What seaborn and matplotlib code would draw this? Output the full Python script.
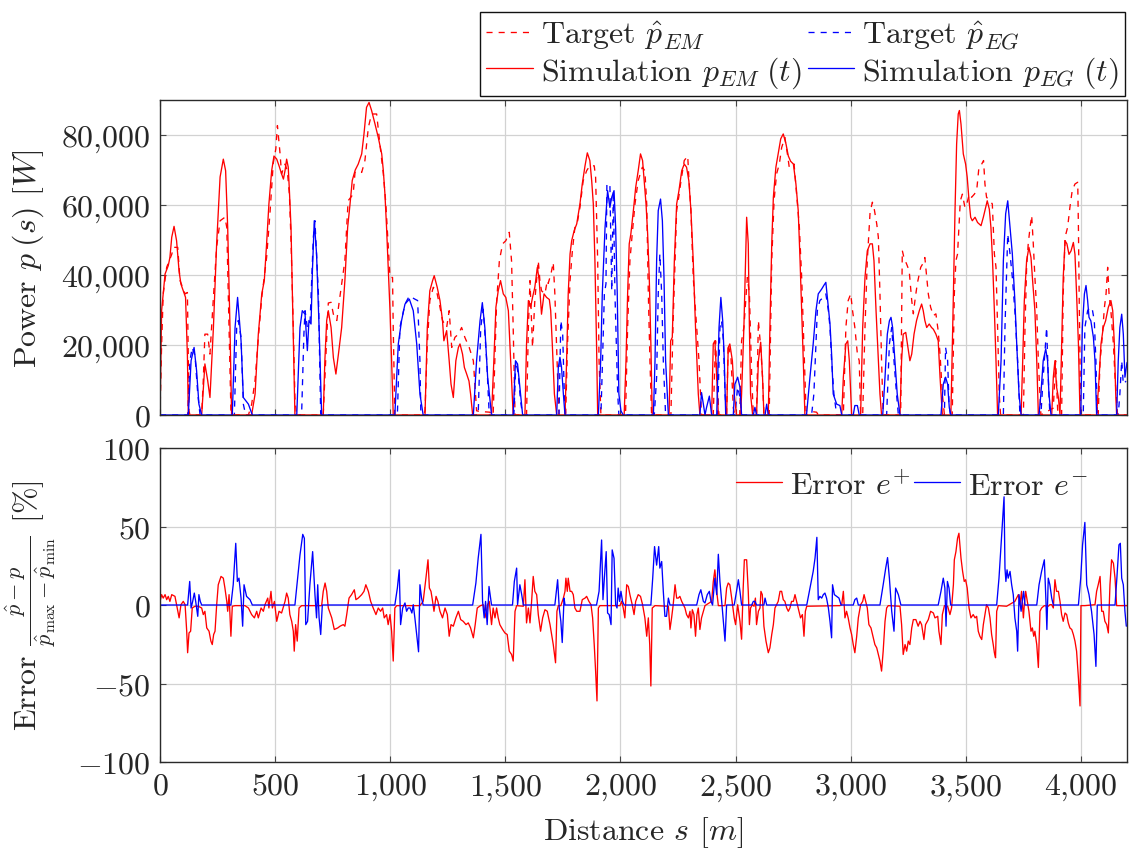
import matplotlib
matplotlib.use("Agg")
import matplotlib.pyplot as plt
from matplotlib.lines import Line2D
import pandas as pd
import seaborn as sns

# ---------------------------------------------------------------------------
# Power profiles along the track: (distance s [m], power [kW])
# ---------------------------------------------------------------------------
em_sim = [
    (0, 0), (7, 29.8), (22, 40.3), (36, 42.7), (43, 45.0), (51, 50.8), (61, 53.9), (72, 49.8),
    (83, 41.0), (91, 37.4), (101, 35.5), (111, 33.6), (119, 17.0), (123, 0), (181, 0),
    (195, 14.6), (207, 9.9), (217, 5.0), (232, 25.0), (246, 48.9), (261, 68.0), (275, 73.1),
    (285, 69.8), (294, 53.6), (304, 25.0), (311, 0), (398, 0), (413, 6.0), (427, 23.1),
    (442, 34.6), (453, 38.4), (463, 48.9), (473, 60.3), (485, 69.8), (495, 74.0), (507, 73.1),
    (517, 71.2), (528, 68.9), (536, 67.4), (543, 69.8), (550, 73.1), (557, 70.8), (562, 64.1),
    (569, 53.6), (575, 34.6), (581, 15.5), (586, 0), (709, 0), (716, 15.5), (724, 27.0),
    (731, 29.8), (743, 25.0), (753, 16.4), (764, 11.7), (775, 17.4), (789, 25.0), (803, 38.4),
    (815, 53.6), (825, 60.0), (835, 67.0), (848, 70.0), (861, 71.7), (876, 74.6), (886, 80.3),
    (897, 87.9), (908, 89.3), (919, 87.0), (934, 83.1), (948, 79.3), (963, 74.6), (970, 69.8),
    (977, 63.1), (984, 53.6), (991, 42.2), (999, 29.8), (1006, 15.5), (1013, 0), (1151, 0),
    (1161, 25.0), (1172, 35.5), (1184, 38.4), (1191, 39.8), (1204, 36.5), (1216, 32.7),
    (1227, 27.0), (1233, 21.2), (1245, 24.1), (1256, 15.5), (1264, 8.8), (1274, 5.0),
    (1285, 15.5), (1296, 19.3), (1303, 20.3), (1314, 17.4), (1322, 13.6), (1332, 11.7),
    (1342, 9.7), (1349, 6.0), (1358, 0), (1440, 0), (1450, 15.5), (1459, 30.8), (1469, 35.5),
    (1479, 38.4), (1491, 34.6), (1502, 33.6), (1513, 29.8), (1523, 15.5), (1534, 0), (1585, 0),
    (1592, 20.3), (1600, 32.7), (1610, 30.8), (1618, 33.6), (1628, 36.5), (1639, 42.2),
    (1647, 38.4), (1657, 28.8), (1668, 34.6), (1679, 33.6), (1691, 33.0), (1697, 29.8),
    (1704, 20.0), (1713, 6.0), (1723, 0), (1759, 0), (1766, 15.5), (1773, 34.6), (1781, 46.0),
    (1788, 49.8), (1799, 52.7), (1810, 54.6), (1824, 60.3), (1834, 66.0), (1846, 71.2),
    (1856, 74.9), (1867, 72.7), (1875, 66.9), (1882, 60.3), (1889, 44.1), (1896, 20.3),
    (1901, 0), (2016, 0), (2024, 15.5), (2031, 34.6), (2038, 48.9), (2045, 51.7), (2056, 58.4),
    (2066, 65.0), (2077, 69.8), (2087, 74.6), (2096, 72.7), (2103, 66.9), (2111, 60.3),
    (2118, 51.7), (2125, 39.3), (2132, 20.3), (2138, 0), (2211, 0), (2218, 21.2), (2225, 22.2),
    (2234, 44.1), (2244, 60.3), (2254, 64.1), (2266, 69.8), (2277, 71.7), (2287, 70.8),
    (2297, 66.9), (2306, 58.4), (2316, 44.1), (2326, 25.0), (2338, 6.0), (2345, 0), (2396, 0),
    (2403, 20.3), (2410, 21.2), (2418, 10.8), (2425, 0), (2461, 0), (2468, 19.3), (2475, 20.3),
    (2486, 15.5), (2494, 6.0), (2504, 0), (2522, 0), (2526, 6.0), (2536, 25.0), (2548, 56.5),
    (2555, 48.9), (2560, 25.0), (2565, 6.0), (2574, 0), (2591, 0), (2599, 15.5), (2609, 20.8),
    (2617, 10.8), (2623, 0), (2642, 0), (2649, 25.0), (2657, 48.9), (2664, 62.2), (2675, 70.8),
    (2685, 74.6), (2696, 78.9), (2707, 80.3), (2719, 77.4), (2729, 74.0), (2739, 72.5),
    (2751, 71.7), (2762, 66.0), (2772, 58.4), (2780, 44.1), (2787, 29.8), (2794, 15.5),
    (2801, 0), (2961, 0), (2968, 10.8), (2979, 20.3), (2987, 21.2), (2994, 15.5), (3004, 0),
    (3043, 0), (3052, 25.0), (3062, 39.3), (3072, 46.9), (3084, 48.9), (3094, 48.9),
    (3101, 44.1), (3110, 29.8), (3120, 15.5), (3127, 6.0), (3134, 0), (3214, 0), (3221, 15.5),
    (3228, 23.1), (3239, 23.6), (3247, 20.0), (3257, 15.5), (3265, 17.4), (3275, 23.1),
    (3286, 27.0), (3298, 29.8), (3308, 31.7), (3315, 29.8), (3322, 27.0), (3330, 25.0),
    (3341, 26.0), (3351, 25.0), (3359, 24.5), (3370, 23.1), (3380, 21.2), (3388, 10.8),
    (3398, 0), (3435, 0), (3446, 34.6), (3453, 58.4), (3460, 77.4), (3467, 86.0), (3472, 87.0),
    (3479, 83.1), (3489, 74.6), (3499, 71.7), (3506, 67.9), (3514, 61.2), (3521, 56.5),
    (3528, 55.5), (3540, 56.5), (3551, 55.0), (3566, 54.1), (3576, 56.5), (3586, 59.3),
    (3593, 61.2), (3602, 58.8), (3609, 53.6), (3616, 44.1), (3624, 29.8), (3631, 15.5),
    (3638, 0), (3740, 0), (3747, 15.5), (3754, 32.7), (3764, 44.1), (3774, 47.9), (3783, 45.0),
    (3790, 38.4), (3800, 29.8), (3808, 15.5), (3815, 0), (3873, 0), (3880, 10.8), (3887, 15.5),
    (3894, 8.0), (3902, 5.0), (3909, 0), (3916, 20.3), (3923, 39.3), (3931, 49.8), (3939, 48.9),
    (3948, 45.9), (3957, 46.9), (3967, 49.3), (3974, 45.9), (3981, 34.6), (3989, 20.3),
    (3996, 0), (4068, 0), (4078, 9.7), (4087, 20.3), (4097, 25.0), (4107, 26.9), (4119, 30.8),
    (4130, 32.7), (4138, 29.8), (4145, 20.3), (4151, 6.0), (4155, 0), (4200, 0),
]

em_target = [
    (0, 0), (7, 20.0), (14, 34.6), (29, 42.2), (51, 45.9), (58, 47.9), (77, 47.9), (87, 38.4),
    (109, 34.6), (119, 35.0), (126, 1.2), (130, 0), (181, 0), (188, 10.0), (195, 23.1),
    (207, 23.1), (217, 17.4), (232, 33.6), (246, 48.0), (261, 55.5), (282, 56.5), (290, 53.6),
    (300, 25.0), (308, 1.2), (314, 0), (384, 0), (398, 3.0), (413, 10.0), (427, 22.0),
    (442, 33.6), (463, 45.0), (478, 58.0), (492, 72.0), (503, 76.0), (510, 82.7), (521, 75.0),
    (528, 68.9), (543, 71.7), (553, 69.8), (562, 63.0), (569, 50.0), (579, 25.0), (586, 5.0),
    (593, 0), (709, 0), (713, 6.0), (731, 32.0), (743, 32.2), (753, 28.8), (768, 27.0),
    (777, 31.7), (789, 37.5), (803, 44.1), (817, 61.2), (839, 63.1), (847, 69.3), (861, 69.8),
    (876, 69.3), (890, 72.7), (905, 82.2), (919, 86.0), (941, 86.0), (955, 77.4), (970, 68.9),
    (981, 60.3), (991, 48.9), (999, 39.3), (1010, 39.3), (1013, 25.0), (1020, 0), (1146, 0),
    (1151, 1.2), (1161, 20.3), (1172, 32.7), (1187, 36.5), (1201, 35.5), (1216, 30.8),
    (1227, 27.0), (1245, 25.0), (1256, 29.8), (1267, 19.3), (1281, 22.2), (1296, 23.1),
    (1310, 25.0), (1324, 22.2), (1343, 19.3), (1361, 15.5), (1375, 1.2), (1390, 1.0),
    (1433, 0.8), (1440, 0), (1447, 0), (1462, 32.2), (1474, 44.1), (1488, 48.9), (1502, 49.8),
    (1517, 52.2), (1527, 43.9), (1534, 25.0), (1542, 0), (1592, 0), (1600, 25.0), (1607, 38.4),
    (1618, 19.3), (1628, 32.7), (1643, 44.1), (1650, 38.4), (1657, 35.5), (1672, 34.6),
    (1682, 38.4), (1686, 37.6), (1698, 40.3), (1708, 43.6), (1715, 34.6), (1727, 10.8),
    (1733, 0), (1762, 0), (1770, 20.3), (1781, 38.4), (1791, 46.9), (1802, 53.6), (1814, 55.5),
    (1824, 59.3), (1838, 66.9), (1853, 69.8), (1867, 71.2), (1886, 71.2), (1892, 67.9),
    (1901, 44.1), (1907, 15.5), (1915, 0), (2022, 0), (2031, 25.0), (2041, 44.1), (2051, 51.7),
    (2063, 60.3), (2077, 67.0), (2095, 70.8), (2106, 69.8), (2114, 60.3), (2121, 34.6),
    (2128, 15.5), (2135, 0), (2219, 0), (2228, 25.0), (2244, 58.4), (2255, 63.1), (2263, 67.0),
    (2277, 72.7), (2292, 74.0), (2297, 67.9), (2306, 58.4), (2316, 39.3), (2331, 25.0),
    (2341, 15.5), (2352, 0), (2403, 0), (2413, 21.2), (2422, 6.0), (2428, 0), (2461, 0),
    (2468, 20.3), (2480, 16.4), (2490, 2.0), (2497, 0), (2518, 0), (2522, 10.0), (2526, 21.2),
    (2536, 25.0), (2551, 39.3), (2560, 34.6), (2570, 10.8), (2577, 0), (2591, 0), (2599, 27.0),
    (2609, 19.3), (2617, 10.8), (2623, 0), (2646, 0), (2657, 44.1), (2667, 61.2), (2678, 68.9),
    (2690, 71.7), (2700, 76.4), (2714, 79.3), (2725, 74.6), (2733, 70.8), (2743, 70.8),
    (2754, 71.7), (2765, 63.1), (2777, 53.6), (2787, 39.3), (2794, 25.0), (2806, 1.2),
    (2852, 0.8), (2859, 0), (2968, 0), (2979, 25.0), (2989, 32.7), (3000, 34.6), (3008, 29.8),
    (3018, 25.0), (3029, 17.4), (3037, 15.5), (3043, 0), (3052, 0), (3062, 25.0), (3072, 44.1),
    (3084, 57.8), (3094, 60.8), (3101, 59.3), (3113, 54.6), (3120, 50.8), (3127, 34.6),
    (3134, 15.5), (3141, 0), (3217, 0), (3224, 47.0), (3231, 45.0), (3243, 43.1), (3254, 41.2),
    (3265, 32.7), (3272, 28.9), (3279, 32.7), (3289, 37.5), (3304, 42.2), (3312, 43.1),
    (3322, 45.0), (3330, 39.3), (3337, 34.6), (3347, 30.8), (3359, 28.4), (3370, 28.9),
    (3380, 24.0), (3388, 17.4), (3398, 6.0), (3407, 0), (3441, 0), (3450, 34.6), (3457, 44.1),
    (3464, 46.0), (3470, 53.6), (3476, 61.2), (3485, 63.1), (3496, 59.3), (3504, 60.3),
    (3515, 63.1), (3525, 62.2), (3537, 63.1), (3547, 64.1), (3557, 70.8), (3569, 71.7),
    (3577, 72.7), (3583, 66.0), (3590, 62.2), (3605, 61.2), (3615, 60.3), (3624, 46.0),
    (3631, 42.2), (3638, 25.0), (3645, 6.0), (3651, 0), (3750, 0), (3757, 25.0), (3764, 42.2),
    (3771, 48.9), (3779, 53.6), (3786, 57.0), (3793, 48.9), (3800, 39.3), (3808, 29.8),
    (3815, 15.5), (3826, 0), (3880, 2.0), (3890, 15.5), (3899, 1.2), (3905, 0), (3916, 0),
    (3923, 34.6), (3931, 50.8), (3942, 53.6), (3952, 59.3), (3962, 64.1), (3974, 66.0),
    (3986, 66.5), (3989, 53.6), (3993, 29.8), (3999, 0), (4075, 0), (4083, 15.5), (4090, 20.3),
    (4102, 30.8), (4109, 34.6), (4116, 42.2), (4122, 34.6), (4130, 29.8), (4141, 20.3),
    (4148, 10.8), (4159, 0), (4200, 0),
]

eg_sim = [
    (0, 0), (123, 0), (135, 15.5), (148, 19.3), (159, 12.6), (169, 3.1), (181, 0), (314, 0),
    (326, 25.0), (337, 33.6), (352, 21.2), (362, 5.0), (384, 3.1), (401, 0), (594, 0),
    (608, 25.0), (618, 29.8), (630, 28.8), (640, 18.4), (647, 27.0), (656, 26.0), (662, 41.2),
    (670, 55.5), (680, 46.0), (691, 25.0), (702, 0), (1020, 0), (1035, 20.3), (1049, 26.9),
    (1064, 31.7), (1083, 33.1), (1100, 29.8), (1115, 20.3), (1129, 6.0), (1143, 0), (1361, 0),
    (1375, 15.5), (1390, 26.9), (1400, 32.1), (1411, 24.9), (1423, 10.8), (1440, 0), (1534, 0),
    (1544, 15.5), (1553, 14.6), (1563, 7.9), (1575, 0), (1723, 0), (1730, 13.6), (1737, 16.5),
    (1744, 13.6), (1752, 6.0), (1759, 0), (1904, 0), (1914, 15.5), (1921, 34.6), (1933, 53.6),
    (1944, 64.1), (1954, 59.3), (1962, 62.2), (1972, 64.1), (1979, 53.6), (1986, 34.6),
    (1993, 6.0), (2002, 1.2), (2012, 0), (2143, 0), (2150, 15.5), (2157, 44.1), (2164, 58.4),
    (2174, 61.7), (2182, 55.5), (2189, 39.3), (2196, 15.5), (2208, 0), (2345, 0), (2352, 6.4),
    (2360, 3.1), (2367, 0), (2374, 2.2), (2386, 5.4), (2396, 0), (2418, 0), (2428, 25.0),
    (2436, 33.6), (2444, 26.9), (2451, 15.5), (2457, 0), (2490, 0), (2497, 8.8), (2509, 10.8),
    (2519, 7.9), (2526, 0), (2577, 0), (2584, 2.2), (2591, 0), (2628, 0), (2635, 3.1), (2642, 0),
    (2808, 0), (2823, 10.8), (2837, 20.3), (2849, 29.8), (2859, 34.6), (2874, 36.0),
    (2884, 37.1), (2892, 37.9), (2900, 32.7), (2910, 26.0), (2917, 17.4), (2924, 6.0),
    (2939, 3.1), (2953, 2.7), (2961, 0), (3011, 0), (3018, 2.7), (3029, 2.7), (3037, 0),
    (3139, 0), (3149, 10.8), (3159, 23.1), (3168, 26.9), (3175, 27.9), (3182, 25.0),
    (3192, 15.5), (3202, 6.0), (3214, 0), (3392, 0), (3402, 8.8), (3412, 10.8), (3421, 8.8),
    (3428, 2.2), (3435, 0), (3641, 0), (3653, 15.5), (3663, 44.1), (3673, 57.5), (3682, 61.2),
    (3692, 53.6), (3702, 46.0), (3713, 32.7), (3721, 20.3), (3731, 6.0), (3740, 0), (3818, 0),
    (3826, 6.0), (3836, 15.5), (3847, 18.9), (3855, 15.5), (3861, 6.0), (3870, 0), (3999, 0),
    (4006, 25.0), (4015, 34.6), (4022, 37.0), (4029, 32.7), (4035, 27.9), (4043, 26.9),
    (4054, 22.2), (4061, 15.5), (4068, 0), (4155, 0), (4162, 15.5), (4169, 25.0), (4177, 28.8),
    (4184, 23.1), (4191, 10.8), (4200, 15.0),
]

eg_target = [
    (0, 0), (120, 0), (130, 15.5), (140, 19.3), (152, 17.0), (164, 6.0), (174, 0), (323, 0),
    (333, 25.0), (340, 27.0), (352, 22.2), (362, 3.1), (372, 0), (615, 0), (625, 23.1),
    (630, 29.8), (640, 25.0), (652, 26.9), (666, 50.8), (673, 55.5), (688, 34.6), (698, 0),
    (1031, 0), (1042, 25.0), (1064, 31.7), (1083, 34.0), (1107, 33.1), (1119, 32.7),
    (1129, 15.5), (1133, 0), (1382, 0), (1393, 25.0), (1404, 30.2), (1419, 15.5), (1430, 0),
    (1537, 0), (1546, 15.5), (1556, 11.7), (1566, 4.0), (1575, 0), (1733, 0), (1741, 27.0),
    (1749, 23.1), (1756, 6.0), (1762, 0), (1915, 0), (1922, 15.5), (1930, 34.6), (1937, 37.5),
    (1941, 66.0), (1954, 66.0), (1962, 35.5), (1969, 64.1), (1976, 34.6), (1988, 6.0),
    (1993, 0), (2147, 0), (2157, 10.8), (2164, 34.6), (2171, 46.0), (2179, 34.6), (2186, 15.5),
    (2196, 0), (2422, 0), (2432, 25.0), (2439, 27.0), (2447, 21.2), (2454, 6.0), (2461, 0),
    (2497, 0), (2509, 8.0), (2519, 5.0), (2526, 0), (2830, 0), (2840, 6.0), (2849, 20.3),
    (2855, 29.8), (2866, 32.7), (2881, 33.6), (2892, 34.6), (2903, 29.8), (2910, 25.0),
    (2917, 15.5), (2927, 6.0), (2939, 0), (3156, 0), (3168, 20.3), (3178, 25.0), (3188, 15.5),
    (3199, 6.0), (3207, 0), (3407, 0), (3412, 19.3), (3421, 15.5), (3427, 3.1), (3433, 0),
    (3663, 0), (3670, 25.0), (3682, 51.7), (3692, 46.0), (3702, 39.3), (3713, 29.8),
    (3725, 15.5), (3735, 0), (3826, 0), (3836, 10.8), (3851, 25.0), (3858, 10.8), (3865, 0),
    (4010, 0), (4017, 25.0), (4029, 29.8), (4039, 30.8), (4049, 30.3), (4058, 26.9),
    (4065, 15.5), (4071, 0), (4162, 0), (4169, 6.0), (4177, 15.5), (4184, 8.8), (4196, 9.7),
]

# ---------------------------------------------------------------------------
# Normalised tracking errors: (distance s [m], error [%])
# ---------------------------------------------------------------------------
err_plus = [
    (0, 2.3), (7, 6.6), (14, 4.4), (22, 6.6), (29, 3.4), (36, 5.5), (43, 2.3), (51, 6.6),
    (65, 5.5), (72, 0.2), (83, -8.2), (91, 0.2), (101, 2.3), (109, 0.2), (116, -16.7),
    (120, -30.4), (126, -17.8), (133, -16.7), (140, -1.9), (152, -0.8), (166, -0.8), (181, -1.9),
    (188, -6.1), (195, -4.0), (203, -14.6), (213, -16.7), (221, -23.0), (227, -25.2),
    (233, -18.8), (239, -16.7), (246, -0.2), (253, 12.9), (265, 18.2), (275, 17.1), (282, 10.8),
    (290, 2.3), (294, -4.0), (300, 6.6), (308, -19.9), (314, -0.8), (326, -0.4), (369, -0.4),
    (384, -1.9), (398, -6.1), (410, -8.2), (420, -4.0), (427, -8.2), (439, -1.9), (449, -4.0),
    (456, 0.2), (468, 4.4), (473, -1.9), (482, 8.7), (488, -1.9), (497, 2.3), (507, -10.4),
    (517, -4.0), (528, -5.1), (543, 2.3), (550, 7.6), (557, 4.4), (564, -6.1), (572, -10.4),
    (579, -16.7), (583, -29.4), (589, -12.5), (596, -23.0), (604, -1.9), (615, -0.4),
    (702, -0.4), (709, 8.7), (717, 14.0), (724, 8.7), (731, -1.9), (746, -8.2), (757, -15.6),
    (772, -14.6), (782, -13.5), (796, -12.5), (803, -13.5), (811, -6.1), (821, 4.4), (832, 6.6),
    (844, 9.7), (851, 3.4), (861, 4.4), (876, 6.6), (886, 8.7), (894, 12.9), (905, 8.7),
    (915, 2.3), (926, -1.9), (938, -6.1), (948, -1.9), (958, -4.0), (967, -1.9), (974, -8.2),
    (984, -6.1), (991, -12.5), (999, -6.1), (1006, -16.7), (1013, -35.7), (1020, -1.9),
    (1028, -0.4), (1129, -0.4), (1143, 2.3), (1155, 17.1), (1164, 28.8), (1170, 10.8),
    (1177, 8.7), (1184, 2.3), (1190, -4.0), (1199, 5.5), (1207, 2.3), (1216, -4.0), (1227, -8.2),
    (1238, -1.9), (1248, -6.1), (1256, -19.9), (1264, -12.5), (1274, -13.5), (1285, -8.2),
    (1296, -4.0), (1306, -9.3), (1317, -10.4), (1329, -12.5), (1339, -11.4), (1349, -14.6),
    (1361, -20.9), (1369, -12.5), (1378, -1.9), (1392, -0.4), (1404, 0.2), (1416, -8.2),
    (1423, 0.2), (1430, 2.3), (1440, -12.5), (1447, -1.9), (1455, -8.2), (1462, -1.9),
    (1469, -8.2), (1476, -12.5), (1488, -15.6), (1498, -17.8), (1508, -18.8), (1517, -29.4),
    (1527, -31.5), (1534, -35.7), (1542, -4.0), (1549, -0.4), (1578, -0.8), (1585, 16.1),
    (1592, -11.4), (1600, -1.9), (1607, -11.4), (1614, 2.3), (1621, 18.2), (1628, 8.7),
    (1636, 6.6), (1643, -6.1), (1653, -16.7), (1662, -8.2), (1672, -3.0), (1682, -4.0),
    (1694, -12.5), (1701, -18.8), (1708, -25.2), (1718, -36.8), (1724, -4.0), (1730, -0.4),
    (1741, -0.4), (1752, 4.4), (1759, 8.7), (1763, 17.1), (1769, 8.7), (1773, 17.1),
    (1781, 8.7), (1788, 8.7), (1795, 6.6), (1802, -1.9), (1810, -4.0), (1824, -4.0),
    (1834, 3.4), (1846, 4.4), (1853, 5.5), (1863, 2.3), (1872, 0.2), (1879, -8.2),
    (1886, -25.2), (1892, -42.1), (1898, -61.1), (1904, -1.9), (1911, -0.4), (1998, -0.4),
    (2005, 2.3), (2012, -1.9), (2019, -8.2), (2027, 12.9), (2034, 11.8), (2041, 6.6),
    (2051, 0.2), (2059, -6.1), (2066, 2.3), (2077, 6.6), (2087, 5.5), (2096, 0.2), (2106, -8.2),
    (2114, -19.9), (2121, -8.2), (2127, -25.2), (2132, -51.6), (2138, -1.9), (2150, -0.4),
    (2208, -0.8), (2215, -15.6), (2222, -8.2), (2229, 0.2), (2237, 12.9), (2244, 4.4),
    (2251, 4.4), (2258, 5.5), (2266, 2.3), (2273, 0.2), (2280, -1.9), (2287, -6.1), (2295, -8.2),
    (2302, -4.0), (2306, -14.6), (2312, -3.0), (2319, -6.1), (2326, -19.9), (2332, -6.1),
    (2338, -1.9), (2345, -15.6), (2352, -8.2), (2360, -4.0), (2367, -0.4), (2396, 2.3),
    (2403, 14.8), (2410, 22.4), (2418, 8.7), (2425, -0.4), (2454, -0.4), (2461, 10.8),
    (2468, 14.0), (2475, 12.9), (2483, 4.4), (2494, -8.2), (2500, -12.5), (2509, 0.2),
    (2519, -10.4), (2526, -21.8), (2533, 10.8), (2538, 28.8), (2548, 28.8), (2555, 8.7),
    (2560, -12.5), (2565, -1.9), (2573, 0.2), (2580, -0.8), (2586, 4.4), (2591, -12.5),
    (2599, -4.0), (2606, -1.9), (2610, 8.7), (2616, 6.6), (2623, -13.5), (2632, -23.0),
    (2642, -30.4), (2649, -27.3), (2657, -18.8), (2664, -12.5), (2671, -1.9), (2678, 0.2),
    (2685, 2.3), (2693, 8.7), (2700, 8.7), (2707, 3.4), (2714, 2.3), (2722, -1.9), (2729, -4.0),
    (2736, -1.9), (2743, 2.3), (2751, 2.3), (2758, 6.6), (2765, 2.3), (2772, -1.9),
    (2782, -8.2), (2790, -6.1), (2797, -19.9), (2803, -4.0), (2809, -0.8), (2953, -0.4),
    (2961, 0.2), (2968, 8.7), (2975, -8.2), (2982, -4.0), (2989, -8.2), (2997, -14.6),
    (3004, -18.8), (3011, -25.2), (3018, -30.4), (3026, -19.9), (3033, -8.2), (3043, 0.2),
    (3052, 2.3), (3058, 6.6), (3065, 2.3), (3072, -1.9), (3079, -12.5), (3088, -14.6),
    (3098, -20.9), (3105, -25.2), (3113, -27.3), (3120, -31.5), (3127, -35.7), (3134, -42.1),
    (3141, -29.4), (3149, -10.4), (3156, -1.9), (3163, -0.4), (3214, -0.8), (3221, -12.5),
    (3228, -31.5), (3236, -25.2), (3243, -29.4), (3250, -23.0), (3257, -25.2), (3265, -14.6),
    (3272, -9.3), (3283, -9.3), (3293, -13.5), (3301, -10.4), (3308, -12.5), (3318, -22.0),
    (3325, -12.5), (3337, -9.3), (3347, -4.0), (3359, -5.1), (3366, -8.2), (3378, -7.2),
    (3383, -16.7), (3392, -25.2), (3398, -6.1), (3407, -0.4), (3421, -0.8), (3431, -6.1),
    (3438, -1.9), (3446, 12.9), (3450, 28.8), (3457, 34.0), (3464, 42.5), (3470, 45.7),
    (3479, 29.8), (3486, 21.4), (3493, 15.0), (3499, 16.1), (3506, 10.8), (3514, -1.9),
    (3522, -8.2), (3532, -6.1), (3540, -8.2), (3547, -7.2), (3554, -16.7), (3561, -19.9),
    (3569, -22.0), (3576, -12.5), (3583, -6.1), (3590, 0.2), (3598, -1.9), (3605, -8.2),
    (3612, -18.8), (3619, -25.2), (3624, -30.4), (3629, -33.6), (3634, -4.0), (3641, -0.4),
    (3677, -0.8), (3713, 2.3), (3728, 6.6), (3735, 0.2), (3742, 8.7), (3750, -8.2), (3754, 0.2),
    (3760, 8.7), (3767, 2.3), (3774, -4.0), (3783, -16.7), (3789, -14.6), (3795, -19.9),
    (3800, -16.7), (3808, -25.2), (3815, -39.8), (3822, -4.0), (3829, -1.9), (3841, -0.4),
    (3858, -0.8), (3865, 0.2), (3873, 0.2), (3880, -1.9), (3887, 16.1), (3894, 8.7),
    (3902, 8.7), (3909, 2.3), (3916, -6.1), (3923, -10.4), (3931, -5.1), (3938, -6.1),
    (3945, -11.4), (3952, -14.6), (3960, -15.6), (3967, -18.8), (3974, -23.0), (3981, -29.4),
    (3989, -46.5), (3996, -64.3), (4000, -0.4), (4017, -0.4), (4061, 0.2), (4068, 8.7),
    (4075, 12.9), (4083, 18.2), (4090, -4.0), (4097, -4.0), (4104, -10.4), (4112, -12.5),
    (4119, -17.8), (4126, 12.9), (4133, 28.8), (4141, 26.6), (4148, 17.1), (4155, -0.4),
    (4200, -0.4),
]

err_minus = [
    (0, 0), (120, 0), (129, 15.0), (135, -1.9), (142, 2.3), (149, 7.6), (155, 2.3), (164, -7.2),
    (169, 6.6), (175, 2.3), (181, 0), (308, 0), (318, 12.9), (329, 39.3), (336, 15.0),
    (343, 17.1), (352, 4.4), (359, -13.5), (365, 12.9), (376, 5.5), (391, 3.4), (401, 0),
    (586, 0), (598, 17.1), (608, 31.9), (620, 45.0), (627, 42.5), (633, -12.5), (641, -10.4),
    (651, 12.9), (663, 34.0), (673, 6.6), (680, -8.2), (685, 12.9), (691, -8.2), (698, -18.8),
    (705, 0), (1020, 0), (1031, 10.8), (1039, 22.4), (1045, -12.5), (1054, -1.9), (1064, 1.3),
    (1071, -4.0), (1078, -1.9), (1086, -1.9), (1094, -5.1), (1100, 0.2), (1107, -8.2),
    (1115, -18.8), (1123, -29.8), (1129, 12.9), (1136, 4.4), (1143, 0), (1358, 0), (1372, 14.0),
    (1382, 29.8), (1394, 45.0), (1401, 2.3), (1408, -8.2), (1414, 2.3), (1421, -12.5),
    (1429, 11.8), (1440, 0), (1531, 0), (1539, 15.0), (1549, 23.5), (1553, 0.2), (1563, 12.9),
    (1571, 6.6), (1578, 0), (1715, 0), (1727, 16.1), (1734, -1.9), (1741, -10.4), (1747, -23.9),
    (1755, 4.4), (1759, 0), (1896, 0), (1907, 8.7), (1918, 41.4), (1924, 3.4), (1930, 17.1),
    (1938, 34.0), (1944, -5.1), (1951, -6.1), (1959, -12.5), (1964, 35.1), (1972, 29.8),
    (1979, 0.2), (1985, -1.9), (1990, 10.8), (1996, 2.3), (2002, 8.7), (2009, 2.3), (2016, 0),
    (2132, 0), (2140, 17.1), (2148, 37.2), (2157, 25.4), (2166, 37.2), (2171, 23.5),
    (2179, 27.7), (2186, 8.7), (2193, -7.2), (2200, -7.2), (2208, 4.4), (2215, 0), (2331, 0),
    (2341, 6.6), (2349, 9.7), (2360, 2.3), (2367, 1.3), (2377, 6.6), (2386, 8.7), (2393, 2.3),
    (2400, 0), (2410, 17.1), (2418, 6.6), (2425, 32.3), (2432, 15.0), (2442, -1.9),
    (2454, -23.0), (2461, 0), (2494, 0), (2504, 8.7), (2512, 16.1), (2519, 8.7), (2526, 0),
    (2570, 0), (2577, 2.3), (2584, 2.3), (2591, 0), (2623, 0), (2628, 4.4), (2635, 0), (2809, 0),
    (2823, 10.8), (2837, 21.4), (2845, 29.8), (2853, 43.1), (2859, 3.4), (2866, 5.5),
    (2874, 4.4), (2881, 6.6), (2888, 7.6), (2895, 4.4), (2903, -1.9), (2910, -10.4),
    (2917, -20.9), (2921, 12.9), (2929, 6.6), (2939, 5.5), (2949, 4.4), (2958, 0), (3011, 0),
    (3018, 3.4), (3026, 4.4), (3033, 0), (3127, 0), (3141, 12.9), (3152, 23.5), (3160, 30.2),
    (3168, 17.1), (3178, -4.0), (3188, -16.7), (3195, 10.8), (3207, 6.6), (3218, 0), (3380, 0),
    (3392, 8.7), (3402, 17.1), (3409, 10.8), (3414, -13.5), (3420, 15.0), (3427, 10.8),
    (3434, 0), (3634, 0), (3644, 17.1), (3653, 38.3), (3666, 68.9), (3670, 23.5), (3674, 15.0),
    (3679, 22.4), (3684, 17.1), (3692, 21.4), (3699, 12.9), (3706, 6.6), (3713, -8.2),
    (3721, -16.7), (3725, -29.4), (3731, 6.6), (3740, -4.0), (3745, 2.3), (3751, 8.7),
    (3757, 0), (3808, 0), (3818, 12.9), (3829, 21.4), (3841, 28.8), (3848, 2.3), (3852, -15.6),
    (3858, 17.1), (3865, 12.9), (3873, 4.4), (3880, 0), (3989, 0), (3999, 17.1), (4007, 38.3),
    (4017, 52.6), (4025, 12.9), (4035, 6.6), (4046, -4.0), (4057, -18.8), (4065, -39.1),
    (4071, 0), (4148, 0), (4156, 17.1), (4165, 38.3), (4171, 39.3), (4177, 17.1), (4184, 12.9),
    (4191, -4.0), (4197, -13.5),
]

power_ticks = [0, 20000, 40000, 60000, 80000]
error_ticks = [-100, -50, 0, 50, 100]
distance_ticks = [0, 500, 1000, 1500, 2000, 2500, 3000, 3500, 4000]

RED = "#ff0000"
BLUE = "#0000ff"
DASH = (0, (4.6, 4.6))
LW = 0.95
FS = 23


def frame(points, scale=1.0):
    df = pd.DataFrame(points, columns=["s", "v"])
    df["v"] = df["v"] * scale
    return df


def math_label(v):
    return "$" + f"{v:,}".replace(",", "{,}") + "$"


sns.set_theme(style="whitegrid")
plt.rcParams.update({
    "font.family": "serif",
    "font.serif": ["cmr10"],
    "mathtext.fontset": "cm",
    "axes.unicode_minus": False,
    "axes.formatter.use_mathtext": True,
})

fig = plt.figure(figsize=(11.29, 8.54), dpi=100)
W, H = 1129, 854
ax1 = fig.add_axes([160 / W, 1 - 416 / H, (1127 - 160) / W, (416 - 101) / H])
ax2 = fig.add_axes([160 / W, 1 - 763 / H, (1127 - 160) / W, (763 - 449) / H])

# --- power panel ---
common = dict(x="s", y="v", estimator=None, sort=False, legend=False)
sns.lineplot(data=frame(em_target, 1000), ax=ax1, color=RED, lw=LW, linestyle=DASH, **common)
sns.lineplot(data=frame(eg_target, 1000), ax=ax1, color=BLUE, lw=LW, linestyle=DASH, **common)
sns.lineplot(data=frame(em_sim, 1000), ax=ax1, color=RED, lw=LW, **common)
sns.lineplot(data=frame(eg_sim, 1000), ax=ax1, color=BLUE, lw=LW, **common)

# --- error panel ---
sns.lineplot(data=frame(err_plus), ax=ax2, color=RED, lw=LW, **common)
sns.lineplot(data=frame(err_minus), ax=ax2, color=BLUE, lw=LW, **common)

for ax in (ax1, ax2):
    ax.set_xlim(0, 4200)
    ax.set_xticks(distance_ticks)
    ax.set_axisbelow(True)
    ax.grid(True, color="#d2d2d2", lw=0.9)
    ax.tick_params(direction="in", length=4.5, width=0.8, color="#444444",
                   top=True, right=True, bottom=True, left=True, labelsize=FS, pad=7)
    for sp in ax.spines.values():
        sp.set_color("#2a2a2a")
        sp.set_linewidth(1.0)
    ax.set_xlabel("")
    ax.set_ylabel("")

ax1.set_ylim(0, 90000)
ax1.set_yticks(power_ticks)
ax1.set_yticklabels([math_label(v) for v in power_ticks])
ax1.tick_params(labelbottom=False)

ax2.set_ylim(-100, 100)
ax2.set_yticks(error_ticks)
ax2.set_yticklabels([math_label(v) for v in error_ticks])
ax2.set_xticklabels([math_label(v) for v in distance_ticks])

ax1.set_ylabel(r"Power $p\;(s)$ $[W]$", fontsize=FS)
ax1.yaxis.set_label_coords(-0.118, 0.5)
ax2.set_ylabel(r"Error $\frac{\hat{p}-p}{\hat{p}_\mathrm{max}-\hat{p}_\mathrm{min}}$ $[\%]$",
               fontsize=FS)
ax2.yaxis.set_label_coords(-0.105, 0.5)
ax2.set_xlabel(r"Distance $s$ $[m]$", fontsize=FS)
ax2.xaxis.set_label_coords(0.5, -0.165)

# --- legends ---
h_top = [
    Line2D([], [], color=RED, lw=LW, linestyle=DASH),
    Line2D([], [], color=RED, lw=LW),
    Line2D([], [], color=BLUE, lw=LW, linestyle=DASH),
    Line2D([], [], color=BLUE, lw=LW),
]
l_top = [r"Target $\hat{p}_{EM}$", r"Simulation $p_{EM}\;(t)$",
         r"Target $\hat{p}_{EG}$", r"Simulation $p_{EG}\;(t)$"]
leg1 = ax1.legend(h_top, l_top, ncol=2, loc="lower right", bbox_to_anchor=(0.998, 1.012),
                  borderaxespad=0, fontsize=FS, frameon=True, fancybox=False, framealpha=1,
                  edgecolor="#111111", handlelength=1.45, handletextpad=0.25,
                  columnspacing=0.2, labelspacing=0.1, borderpad=0.2)
leg1.get_frame().set_linewidth(1.0)

h_bot = [Line2D([], [], color=RED, lw=LW), Line2D([], [], color=BLUE, lw=LW)]
l_bot = [r"Error $e^{+}$", r"Error $e^{-}$"]
ax2.legend(h_bot, l_bot, ncol=2, loc="upper right", bbox_to_anchor=(0.96, 0.93),
           borderaxespad=0, borderpad=0, fontsize=FS, frameon=False,
           handlelength=1.45, handletextpad=0.25, columnspacing=0.1)

fig.savefig("out.png", dpi=100)
